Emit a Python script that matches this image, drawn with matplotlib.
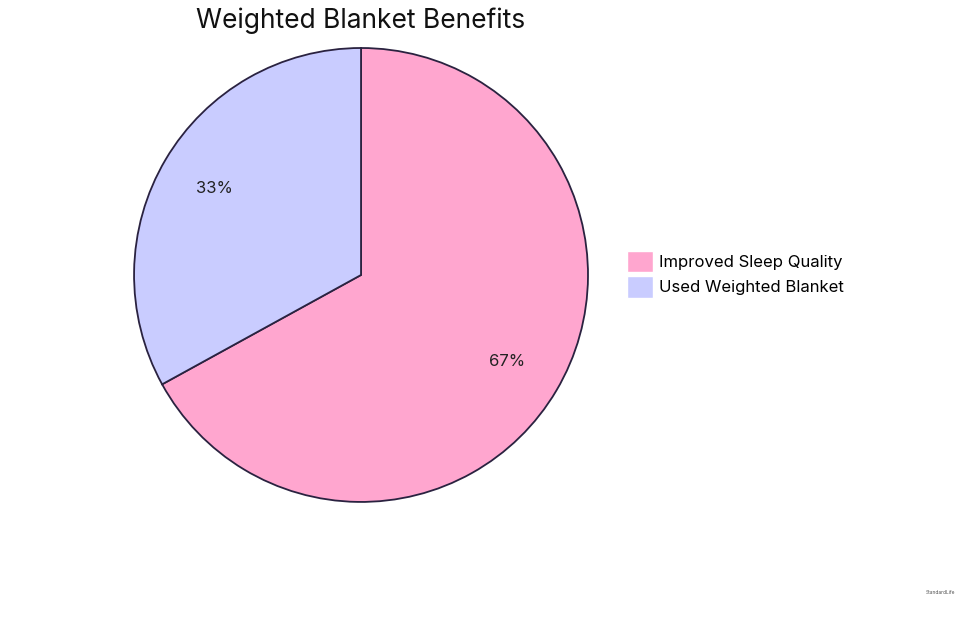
import matplotlib
matplotlib.use("Agg")
import matplotlib.pyplot as plt
from matplotlib.patches import Patch

plt.rcParams['font.family'] = ['Inter', 'DejaVu Sans']

labels = ["Improved Sleep Quality", "Used Weighted Blanket"]
values = [67, 33]
colors = ["#FFA6CF", "#C9CCFF"]

fig = plt.figure(figsize=(9.8, 6.2), dpi=100)
ax = fig.add_axes([0.3684 - 0.2316, 0.5565 - 0.3661, 0.4632, 0.7322])
wedges, texts, autotexts = ax.pie(values, colors=colors, startangle=90, counterclock=False,
    autopct="%d%%", pctdistance=0.75,
    wedgeprops=dict(edgecolor="#2a2240", linewidth=1.3),
    textprops=dict(fontsize=12, color="#222222"))
ax.set_xlim(-1.0, 1.0)
ax.set_ylim(-1.0, 1.0)
ax.set_aspect("equal")
fig.text(0.368, 0.967, "Weighted Blanket Benefits", ha="center", va="center", fontsize=19, color="#111111")
handles = [Patch(facecolor=c, edgecolor="#ffffff") for c in colors]
fig.legend(handles, labels, loc="center left", bbox_to_anchor=(0.624, 0.558), frameon=False,
           fontsize=12, handlelength=1.6, handleheight=1.6, labelspacing=0.25, handletextpad=0.35)
fig.text(0.975, 0.045, "StandardLife", ha="right", va="center", fontsize=3.5, color="#555555")
fig.savefig("out.png", dpi=100, facecolor="white")
